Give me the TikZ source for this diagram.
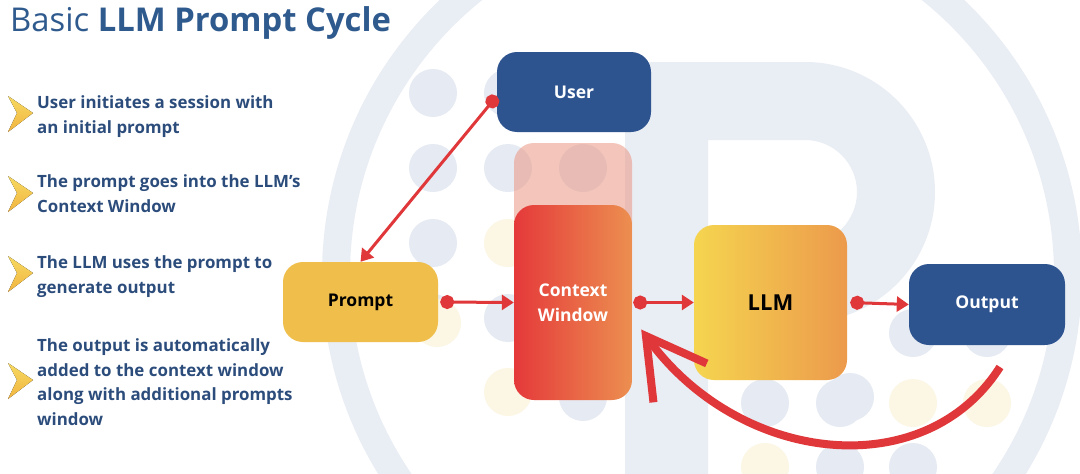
\documentclass[tikz,border=0pt]{standalone}
\usepackage{fontspec}
\setmainfont{Open Sans}
\usetikzlibrary{positioning,arrows.meta,calc}

\definecolor{navy}{HTML}{2E5490}
\definecolor{titleblue}{HTML}{2F5A8E}
\definecolor{textblue}{HTML}{2C4D7C}
\definecolor{promptyellow}{HTML}{EFBE4B}
\definecolor{arrowred}{HTML}{E0383A}
\definecolor{ctxleft}{HTML}{E5393A}
\definecolor{ctxright}{HTML}{EC8F50}
\definecolor{llmleft}{HTML}{F5D54F}
\definecolor{llmright}{HTML}{EC9A4C}
\definecolor{ghostpink}{HTML}{EA8F78}
\definecolor{wmark}{HTML}{E9EDF4}
\definecolor{wdot}{HTML}{E6EAF2}
\definecolor{ydot}{HTML}{FCF6E4}

\tikzset{
  block/.style={rounded corners=20pt, minimum width=154pt, minimum height=80pt,
    inner sep=0pt, align=center, font=\bfseries\fontsize{17.5}{25}\selectfont},
  bluebox/.style={block, fill=navy, text=white},
  link/.style={draw=arrowred, line width=3pt,
    {Circle[length=14pt]}-{Triangle[length=12pt,width=15pt]}},
  feedback/.style={draw=arrowred, line width=8pt,
    -{Straight Barb[length=58pt,width=66pt]}},
  bullettext/.style={anchor=base west, align=left, inner sep=0pt, text=textblue,
    font=\bfseries\fontsize{16.9}{24.5}\selectfont},
  chevron/.style={top color=llmleft!90!white, bottom color=promptyellow!85!orange}
}

\begin{document}
\begin{tikzpicture}[x=1pt, y=-1pt]
\useasboundingbox (0,0) rectangle (1080,474);
\fill[white] (0,0) rectangle (1080,474);

% watermark
\draw[wmark, line width=28pt] (702,275) circle[radius=366];
\fill[wmark, even odd rule] (625,474) -- (625,62) -- (805,62)
  arc[start angle=-90, end angle=90, radius=130] -- (708,322) -- (708,474) -- cycle
  (708,140) -- (805,140) arc[start angle=-90, end angle=90, radius=52] -- (708,244) -- cycle;
\foreach \x/\y in {433/93,508/93,433/168,508/168,583/168,433/243,433/318,508/318,
  583/397,765/403,840/403,850/397,987/333,913/333,840/467,913/467}
  \fill[wdot] (\x,\y) circle[radius=24];
\foreach \x/\y in {508/243,437/323,508/392,913/403,987/403,765/467}
  \fill[ydot] (\x,\y) circle[radius=24];

% title
\node[anchor=base west, inner sep=0pt, text=titleblue, font=\fontsize{32.8}{40}\selectfont]
  (title) at (10,31) {Basic \textbf{LLM Prompt Cycle}};

% bullets (anchored at the baseline of the last line)
\foreach \y in {113,193,273,380}
  \fill[chevron] (8,\y-17) -- (33,\y) -- (8,\y+19) -- (17,\y) -- cycle;
\node[bullettext] (b1) at (37,133) {User initiates a session with\\an initial prompt};
\node[bullettext] (b2) at (37,212) {The prompt goes into the LLM's\\Context Window};
\node[bullettext] (b3) at (37,293) {The LLM uses the prompt to\\generate output};
\node[bullettext] (b4) at (37,425) {The output is automatically\\added to the context window\\along with additional prompts\\window};

% boxes
\fill[ghostpink, fill opacity=0.5, rounded corners=20pt] (514,143) rectangle (632,330);
\node[bluebox] (user) at (574,92) {User};
\node[block, fill=promptyellow, minimum width=155pt] (prompt) at (360.5,302) {Prompt};
\node[block, left color=ctxleft, right color=ctxright, text=white,
  minimum width=118pt, minimum height=195pt] (ctx) at (573,302.5) {Context\\Window};
\node[block, left color=llmleft, right color=llmright, minimum width=153pt,
  minimum height=155pt, font=\bfseries\fontsize{22}{28}\selectfont] (llm) at (770.5,302.5) {LLM};
\node[bluebox, minimum width=156pt, minimum height=81pt] (output) at (987,304.5) {Output};

% connectors
\coordinate (loopstart) at (1000,367);
\draw[link] ([yshift=-4pt]user.west) -- (prompt.north);
\draw[link] ([xshift=2pt]prompt.east) -- (ctx.west);
\draw[link] ([xshift=1pt]ctx.east) -- (llm.west);
\draw[link] ([xshift=3pt]llm.east) -- (output.west);
\draw[feedback] (loopstart) .. controls (925,485) and (740,465) .. ($(ctx.east)+(9,27)$);
\end{tikzpicture}
\end{document}
